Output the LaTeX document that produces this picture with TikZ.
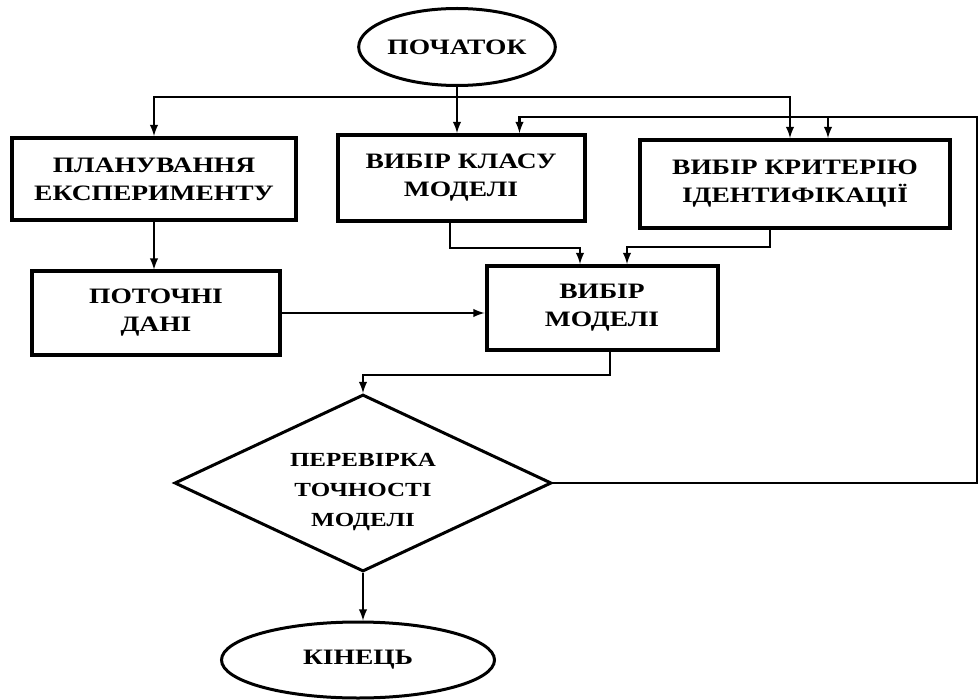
\documentclass[tikz,border=0pt]{standalone}
\usepackage{fontspec}
\setmainfont{Liberation Serif}[FakeStretch=1.25]
\usetikzlibrary{positioning,shapes,arrows,calc}
\tikzset{main node/.style={rectangle,draw,line width=4pt,align=center,inner sep=0pt,
font=\bfseries\fontsize{22}{28}\selectfont},
term node/.style={ellipse,draw,line width=3pt,inner sep=0pt,font=\bfseries\fontsize{22}{28}\selectfont},
test node/.style={diamond,draw,line width=3pt,inner sep=0pt,
font=\bfseries\fontsize{20}{30}\selectfont},
flow/.style={line width=2.8pt,-latex}}

\begin{document}
\begin{tikzpicture}[x=1pt,y=-1pt]
    \useasboundingbox (0,0) rectangle (979,700);
    \node[term node,minimum width=171,minimum height=77] (1) at (457,47) {ПОЧАТОК};
            \node[main node,minimum width=284,minimum height=82] (2) at (154,179) {ПЛАНУВАННЯ\\ЕКСПЕРИМЕНТУ};
            \node[main node,minimum width=247,minimum height=86] (3) at (461,178) {ВИБІР КЛАСУ\\МОДЕЛІ};
            \node[main node,minimum width=310,minimum height=88] (4) at (795,184) {ВИБІР КРИТЕРІЮ\\ІДЕНТИФІКАЦІЇ};
            \node[main node,minimum width=248,minimum height=83] (5) at (156,313) {ПОТОЧНІ\\ДАНІ};
            \node[main node,minimum width=231,minimum height=84] (6) at (602,308) {ВИБІР\\МОДЕЛІ};
            \node[test node,minimum width=377,minimum height=177] (7) at (363,483)
            {\smash{\raisebox{-13pt}{\begin{tabular}{@{}c@{}}ПЕРЕВІРКА\\ТОЧНОСТІ\\МОДЕЛІ\end{tabular}}}};
            \node[term node,minimum width=273,minimum height=76] (8) at (358,660) {КІНЕЦЬ};

            \coordinate (t) at (457,97);
            \coordinate (r1) at (977,483);
            \coordinate (r2) at (977,117);
            \coordinate (c1) at ($(3.north east)+(-67,0)$);
            \coordinate (c2) at ($(4.north)+(33,0)$);
            \coordinate (m1) at ($(6.north)+(-22,0)$);
            \coordinate (m2) at ($(6.north)+(25,0)$);

            \path[draw,flow]
            (1.south) -- (1.south |- 3.north);
            \draw[flow] (t) -| (2.north);
            \draw[flow] (t) -| ($(4.north)+(-5,0)$);
            \draw[flow] (7.east) -- (r1) -- (r2) -| (c1);
            \draw[flow] (c2 |- r2) -- (c2);
            \draw[flow] (2.south) -- (2.south |- 5.north);
            \draw[flow] (5.east) -- (5.east -| 6.west);
            \draw[flow] ($(3.south)+(-11,0)$) -- ++(0,25) -| (m1);
            \draw[flow] ($(4.south)+(-25,0)$) -- ++(0,17) -| (m2);
            \draw[flow] ($(6.south)+(8,0)$) -- ++(0,23) -| (7.north);
            \draw[flow] (7.south) -- (7.south |- 8.north);

\end{tikzpicture}
\end{document}
